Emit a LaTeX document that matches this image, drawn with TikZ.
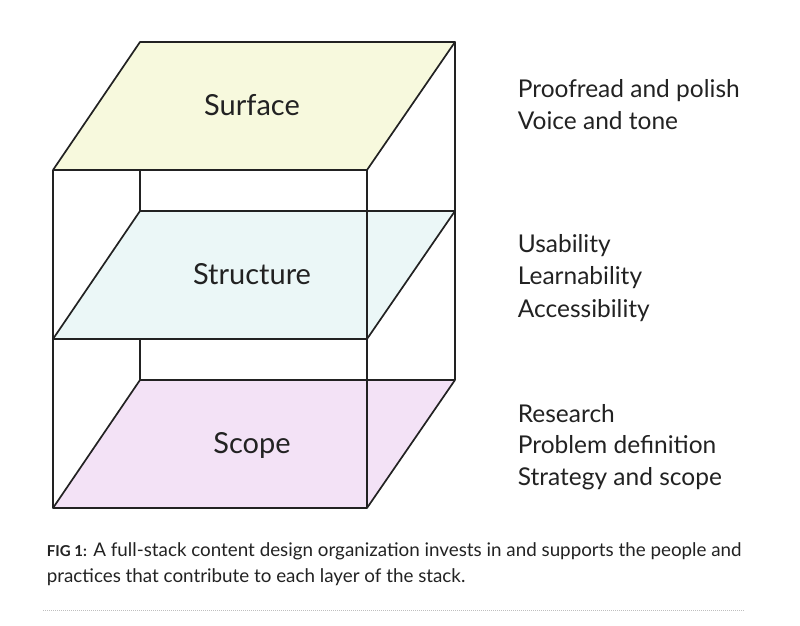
\documentclass[tikz,border=0pt]{standalone}
\usepackage{fontspec}
\setmainfont{Lato}
\usetikzlibrary{calc}
\definecolor{surfacefill}{HTML}{F7F9DD}
\definecolor{structfill}{HTML}{EBF7F7}
\definecolor{scopefill}{HTML}{F3E2F6}
\definecolor{ink}{HTML}{222222}

\begin{document}
\begin{tikzpicture}[x=1pt, y=-1pt, line width=1.7pt, line join=round,
    layertext/.style={text=ink, anchor=base, inner sep=0pt, font=\fontsize{29}{29}\selectfont},
    sidetext/.style={text=ink, anchor=base west, inner sep=0pt, font=\fontsize{24.5}{24.5}\selectfont}]
    \useasboundingbox (0,0) rectangle (800,626);
    % back edges of the box
    \draw[ink] (140,42) -- (140,380) (455,42) -- (455,380);
    % the three layers
    \foreach \dy/\col/\lbl/\nm in {0/surfacefill/Surface/surface, 169/structfill/Structure/structure, 338/scopefill/Scope/scope}{
        \draw[ink, fill=\col] (53,170+\dy) -- (140,42+\dy) -- (455,42+\dy) -- (367,170+\dy) -- cycle;
        \node[layertext] (\nm) at (252,115+\dy) {\lbl};
    }
    % front edges
    \draw[ink] (53,170) -- (53,508) (367,170) -- (367,508);
    % what each layer holds
    \foreach \yy/\txt/\nm in {97/Proofread and polish/polish, 129/Voice and tone/voice,
        252/Usability/usab, 284/Learnability/learn, 317/Accessibility/access,
        422/Research/research, 453/Problem definition/problem, 485/Strategy and scope/strategy}
        \node[sidetext] (\nm) at (517,\yy) {\txt};
    % caption (base anchor sits on the last line)
    \node[text=ink, anchor=base west, inner sep=0pt, align=left, font=\fontsize{18.8}{26}\selectfont] (caption) at (46,582)
        {{\bfseries\fontsize{15}{15}\selectfont FIG 1:} A full-stack content design organization invests in and supports the people and\\
        practices that contribute to each layer of the stack.};
    \coordinate (rulea) at (43,610);
    \coordinate (ruleb) at (745,610);
    \draw[black!25, densely dotted, line width=1pt] (rulea) -- (ruleb);
\end{tikzpicture}
\end{document}
